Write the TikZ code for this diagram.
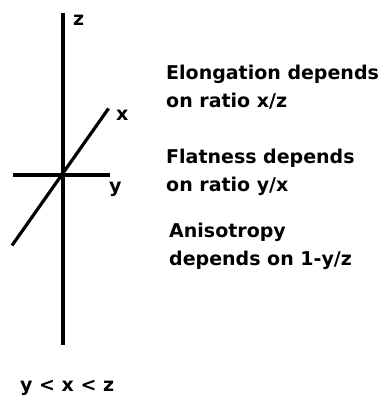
\documentclass[tikz,border=0pt]{standalone}
\usepackage{fontspec}
\setmainfont{DejaVu Sans}
\usetikzlibrary{calc, positioning}

\tikzset{
  axis/.style={line width=3.2pt, black},
  lbl/.style={anchor=base west, inner sep=0pt, font=\bfseries\fontsize{19}{27.5}\selectfont, align=left}
}

\begin{document}
\begin{tikzpicture}[x=1pt, y=-1pt]
\useasboundingbox (0,0) rectangle (380,398);

\coordinate (O) at (63,175);
\coordinate (zTop) at (63,13);
\coordinate (zBot) at (63,345);
\coordinate (yL) at (13,175);
\coordinate (yR) at (110,175);
\coordinate (xTop) at (108.5,108.5);
\coordinate (xBot) at (12,245.5);

\draw[axis] (zBot) -- (zTop);
\draw[axis] (yL) -- (yR);
\draw[axis] (xBot) -- (xTop);

\node[lbl] (zlab) at (73,26) {z};
\node[lbl] (xlab) at (116,121) {x};
\node[lbl] (ylab) at (109,192) {y};

% base anchor sits on the last line
\node[lbl] (elong) at (166,107.5) {Elongation depends\\on ratio x/z};
\node[lbl] (flat) at (166,191) {Flatness depends\\on ratio y/x};
\node[lbl] (aniso) at (169,265) {Anisotropy\\depends on 1-y/z};
\node[lbl] (order) at (20,391) {y < x < z};
\end{tikzpicture}
\end{document}
